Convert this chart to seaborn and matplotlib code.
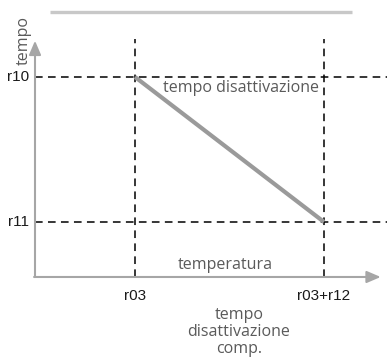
import matplotlib
matplotlib.use("Agg")
import matplotlib.pyplot as plt
import seaborn as sns
import pandas as pd

sns.set_theme(style="white")

# Threshold values on the two axes
x_labels = ["r03", "r03+r12"]
x_values = [1.0, 2.0]
y_labels = ["r10", "r11"]
y_values = [1.0, 0.0]

# Deactivation time falls linearly from r10 at r03 to r11 at r03+r12
line_x = [1.0, 2.0]
line_y = [1.0, 0.0]

axis_x_title = "temperatura"
axis_y_title = "tempo"
line_title = "tempo disattivazione"
bottom_title = "tempo\ndisattivazione\ncomp."

df = pd.DataFrame({"temperatura": line_x, "tempo": line_y})

fig = plt.figure(figsize=(3.87, 3.58), dpi=100)
ax = fig.add_axes([0, 0, 1, 1])
ax.set_xlim(0.2857, 2.3333)
ax.set_ylim(-0.938, 1.531)
ax.axis("off")

grey_text = "#5a5a5a"
label_font = "Liberation Sans"
note_font = "Open Sans"
note_size = 11.5

x0 = 0.4709   # origin of the drawn axes
y0 = -0.3793

# dashed guide lines
dash = dict(color="black", lw=1.1, dashes=(5, 3.5))
for xv in x_values:
    ax.plot([xv, xv], [y0, 1.26], **dash)
for yv in y_values:
    ax.plot([x0, 2.3333], [yv, yv], **dash)

# axes with arrow heads
arrow = dict(arrowstyle="-|>,head_length=0.7,head_width=0.3", color="#a6a6a6", lw=1.5,
             shrinkA=0, shrinkB=0)
ax.annotate("", xy=(x0, 1.25), xytext=(x0, y0), arrowprops=arrow)
ax.annotate("", xy=(2.3, y0), xytext=(x0 - 0.005, y0), arrowprops=arrow)

# decreasing time line
sns.lineplot(data=df, x="temperatura", y="tempo", ax=ax, color="#9a9a9a", lw=3,
             solid_capstyle="butt")
ax.set_xlabel("")
ax.set_ylabel("")

# top rule
ax.plot([1 - 85 / 189, 1 + 217 / 189], [1 + 65 / 145, 1 + 65 / 145], color="#c8c8c8", lw=2.4,
        solid_capstyle="butt")

# threshold labels
for lab, yv in zip(y_labels, y_values):
    ax.text(x0 - 0.03, yv, lab, ha="right", va="center", fontsize=11,
            family=label_font, color="#1a1a1a")
for lab, xv in zip(x_labels, x_values):
    ax.text(xv, y0 - 0.13, lab, ha="center", va="center", fontsize=11,
            family=label_font, color="#1a1a1a")

# descriptive notes
ax.text(x0 - 0.058, 1 + 36 / 145, axis_y_title, rotation=90, ha="center", va="center",
        fontsize=note_size, family=note_font, color=grey_text)
ax.text(1.975, 1 - 11 / 145, line_title, ha="right", va="center", fontsize=note_size,
        family=note_font, color=grey_text)
ax.text(1.0 + 90 / 189, y0 + 12 / 145, axis_x_title, ha="center", va="center",
        fontsize=note_size, family=note_font, color=grey_text)
ax.text(1.0 + 104 / 189, y0 - 55 / 145, bottom_title, ha="center", va="center",
        fontsize=note_size, family=note_font, color=grey_text, linespacing=1.12)

fig.savefig("out.png", dpi=100)
